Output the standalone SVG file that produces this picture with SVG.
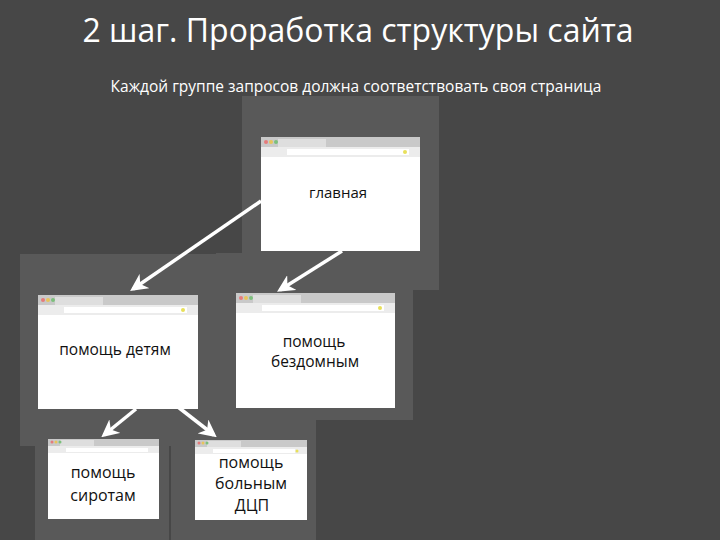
<svg xmlns="http://www.w3.org/2000/svg" width="720" height="540" viewBox="0 0 720 540">
<defs>
<style>
.panel{fill:#595959}
.tabbar{fill:#c9c9c9}
.tab{fill:#dedede}
.addr{fill:#ececec}
.field{fill:#ffffff}
.body{fill:#ffffff}
.lbl{font-family:"Open Sans","Liberation Sans",sans-serif;fill:#111;text-anchor:middle}
.ttl{font-family:"Open Sans","Liberation Sans",sans-serif;fill:#ffffff}
.conn{stroke:#ffffff;stroke-width:3.5;fill:none;marker-end:url(#ah)}
</style>
<marker id="ah" viewBox="0 0 10 10" refX="8" refY="5" markerWidth="5" markerHeight="5" orient="auto" markerUnits="strokeWidth">
<path d="M0,0 L10,5 L0,10 L3,5 z" fill="#ffffff"/>
</marker>
</defs>
<rect width="720" height="540" fill="#474747"/>
<text class="ttl" x="358" y="42" font-size="32" text-anchor="middle">2 шаг.  Проработка структуры сайта</text>
<text class="ttl" x="356" y="92" font-size="15.5" text-anchor="middle">Каждой группе запросов должна соответствовать своя страница</text>

<g id="panels">
<rect class="panel" x="242" y="96" width="197" height="194"/>
<rect class="panel" x="20" y="254" width="196" height="192"/>
<rect class="panel" x="216" y="253" width="197" height="167"/>
<rect class="panel" x="35" y="432" width="134" height="108"/>
<rect class="panel" x="171" y="410" width="145" height="130"/>
</g>

<g id="node-main">
<rect class="body" x="261" y="137" width="159" height="114"/>
<rect class="tabbar" x="261" y="137" width="159" height="10"/>
<rect class="tab" x="278" y="139" width="48" height="8"/>
<rect class="addr" x="261" y="147" width="159" height="10"/>
<rect class="field" x="287" y="149" width="122" height="6"/>
<circle cx="266" cy="142" r="2" fill="#e57b7b"/><circle cx="271" cy="142" r="2" fill="#e8c45a"/><circle cx="276" cy="142" r="2" fill="#7cc07c"/>
<circle cx="405" cy="152" r="2" fill="#e8e05a"/>
<text class="lbl" x="338" y="198" font-size="15">главная</text>
</g>

<g id="node-children">
<rect class="body" x="38" y="295" width="160" height="114"/>
<rect class="tabbar" x="38" y="295" width="160" height="10"/>
<rect class="tab" x="55" y="297" width="48" height="8"/>
<rect class="addr" x="38" y="305" width="160" height="10"/>
<rect class="field" x="64" y="307" width="123" height="6"/>
<circle cx="43" cy="300" r="2" fill="#e57b7b"/><circle cx="48" cy="300" r="2" fill="#e8c45a"/><circle cx="53" cy="300" r="2" fill="#7cc07c"/>
<circle cx="183" cy="310" r="2" fill="#e8e05a"/>
<text class="lbl" x="115" y="355" font-size="15.5">помощь детям</text>
</g>

<g id="node-homeless">
<rect class="body" x="236" y="293" width="159" height="115"/>
<rect class="tabbar" x="236" y="293" width="159" height="10"/>
<rect class="tab" x="253" y="295" width="48" height="8"/>
<rect class="addr" x="236" y="303" width="159" height="10"/>
<rect class="field" x="262" y="305" width="122" height="6"/>
<circle cx="241" cy="298" r="2" fill="#e57b7b"/><circle cx="246" cy="298" r="2" fill="#e8c45a"/><circle cx="251" cy="298" r="2" fill="#7cc07c"/>
<circle cx="380" cy="308" r="2" fill="#e8e05a"/>
<text class="lbl" x="314" y="347" font-size="15.5">помощь</text>
<text class="lbl" x="315" y="367" font-size="15.5">бездомным</text>
</g>

<g id="node-orphans">
<rect class="body" x="48" y="439" width="111" height="80"/>
<rect class="tabbar" x="48" y="439" width="111" height="7"/>
<rect class="tab" x="60" y="440" width="34" height="6"/>
<rect class="addr" x="48" y="446" width="111" height="7"/>
<rect class="field" x="66" y="448" width="82" height="4"/>
<circle cx="52" cy="442" r="1.5" fill="#e57b7b"/><circle cx="56" cy="442" r="1.5" fill="#e8c45a"/><circle cx="60" cy="442" r="1.5" fill="#7cc07c"/>
<text class="lbl" x="103" y="478" font-size="16">помощь</text>
<text class="lbl" x="103" y="501" font-size="16">сиротам</text>
</g>

<g id="node-dcp">
<rect class="body" x="195" y="440" width="112" height="80"/>
<rect class="tabbar" x="195" y="440" width="112" height="7"/>
<rect class="tab" x="207" y="441" width="34" height="6"/>
<rect class="addr" x="195" y="447" width="112" height="7"/>
<rect class="field" x="213" y="449" width="82" height="4"/>
<circle cx="199" cy="443" r="1.5" fill="#e57b7b"/><circle cx="203" cy="443" r="1.5" fill="#e8c45a"/><circle cx="207" cy="443" r="1.5" fill="#7cc07c"/>
<circle cx="297" cy="451" r="1.5" fill="#e8e05a"/>
<text class="lbl" x="251" y="468" font-size="16">помощь</text>
<text class="lbl" x="251" y="489" font-size="16">больным</text>
<text class="lbl" x="252" y="511" font-size="16">ДЦП</text>
</g>

<g id="connectors">
<line class="conn" x1="261" y1="201" x2="133" y2="289"/>
<line class="conn" x1="342" y1="251" x2="280" y2="290"/>
<line class="conn" x1="136" y1="409" x2="104" y2="435"/>
<line class="conn" x1="178" y1="407" x2="214" y2="435"/>
</g>
</svg>
